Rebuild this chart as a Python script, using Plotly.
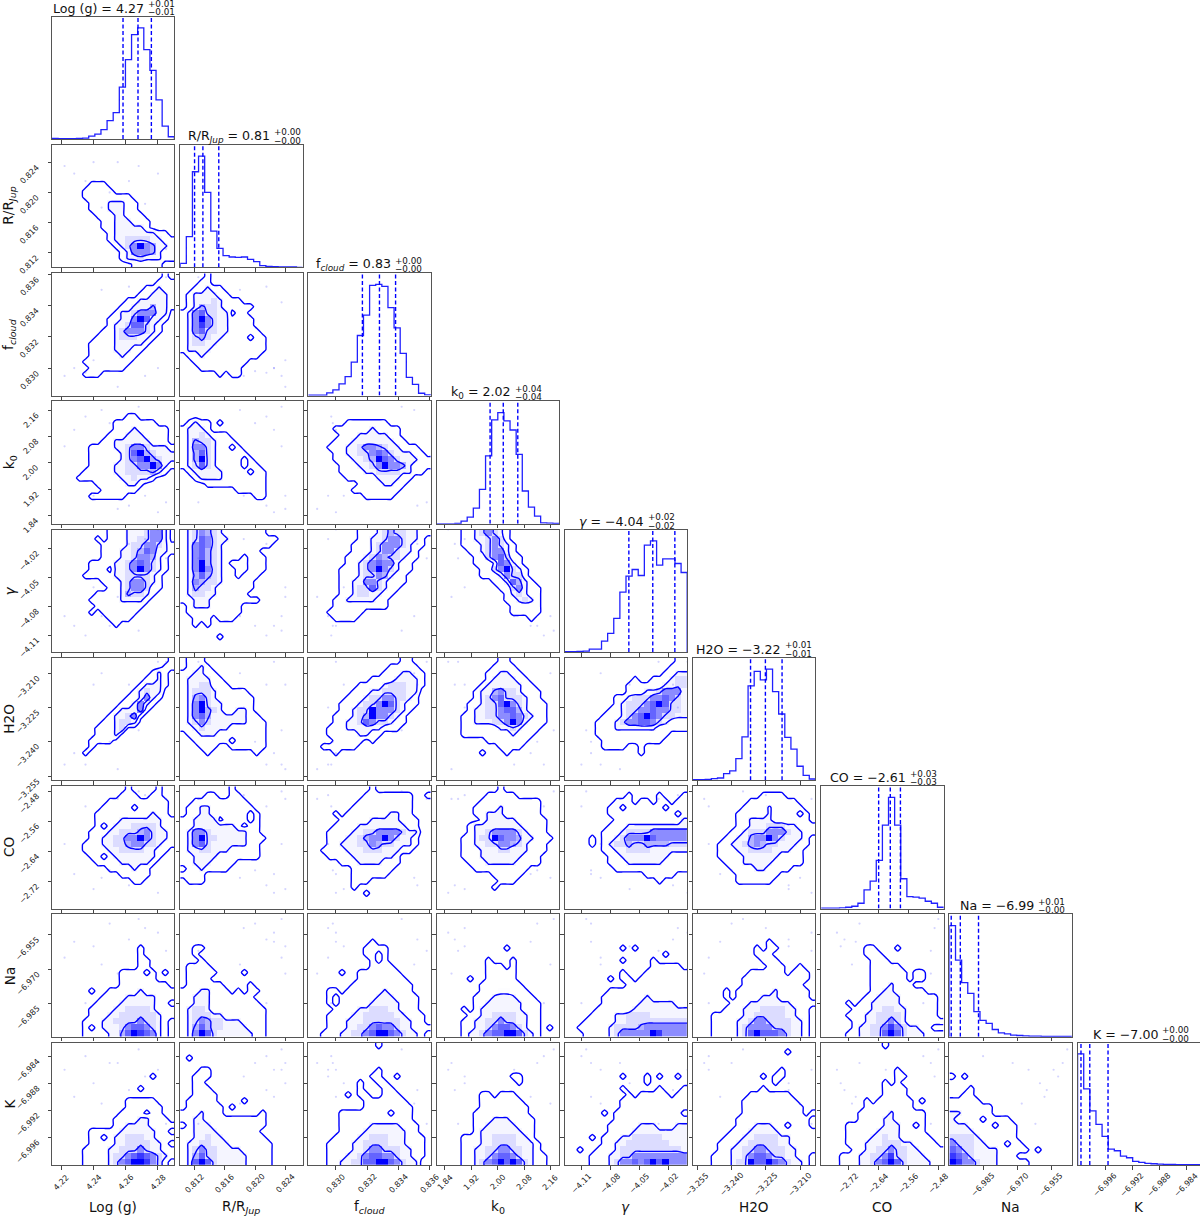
import plotly.graph_objects as go

NAMES = ["Log (g)", "R/R<sub><i>Jup</i></sub>", "f<sub><i>cloud</i></sub>", "k<sub>0</sub>", "<i>γ</i>", "H2O", "CO", "Na", "K"]
MEDIANS = ["4.27", "0.81", "0.83", "2.02", "−4.04", "−3.22", "−2.61", "−6.99", "−7.00"]
ERR_UP = ["+0.01", "+0.00", "+0.00", "+0.04", "+0.02", "+0.01", "+0.03", "+0.01", "+0.00"]
ERR_DN = ["−0.01", "−0.00", "−0.00", "−0.04", "−0.02", "−0.01", "−0.03", "−0.00", "−0.00"]
RANGE_LO = [4.2142, 0.8101, 0.82824, 1.8148, -4.1272, -3.2569, -2.792, -6.9998, -7.0001]
RANGE_HI = [4.2902, 0.82628, 0.83606, 2.186, -4.0003, -3.2033, -2.466, -6.946, -6.982]
TICKS = [
    [4.22, 4.24, 4.26, 4.28],
    [0.812, 0.816, 0.820, 0.824],
    [0.830, 0.832, 0.834, 0.836],
    [1.84, 1.92, 2.00, 2.08, 2.16],
    [-4.11, -4.08, -4.05, -4.02],
    [-3.255, -3.240, -3.225, -3.210],
    [-2.72, -2.64, -2.56, -2.48],
    [-6.985, -6.970, -6.955],
    [-6.996, -6.992, -6.988, -6.984],
]
TICK_TEXT = [
    ["4.22", "4.24", "4.26", "4.28"],
    ["0.812", "0.816", "0.820", "0.824"],
    ["0.830", "0.832", "0.834", "0.836"],
    ["1.84", "1.92", "2.00", "2.08", "2.16"],
    ["−4.11", "−4.08", "−4.05", "−4.02"],
    ["−3.255", "−3.240", "−3.225", "−3.210"],
    ["−2.72", "−2.64", "−2.56", "−2.48"],
    ["−6.985", "−6.970", "−6.955"],
    ["−6.996", "−6.992", "−6.988", "−6.984"],
]

# 1-D histograms (20 bins, relative counts)
H0 = [2, 1, 1, 1, 2, 3, 9, 15, 28, 55, 79, 155, 237, 312, 332, 267, 205, 117, 39, 7]
H1 = [12, 92, 287, 334, 225, 109, 57, 35, 31, 30, 31, 24, 17, 5, 3, 2, 1, 1, 1, 0]
H2 = [1, 1, 1, 8, 17, 35, 57, 101, 181, 242, 332, 335, 329, 265, 204, 127, 55, 34, 7, 2]
H3 = [0, 0, 0, 1, 8, 20, 47, 103, 203, 310, 332, 307, 280, 207, 98, 50, 23, 3, 2, 1]
H4 = [1, 1, 2, 3, 9, 9, 33, 56, 101, 180, 228, 248, 230, 321, 334, 261, 280, 280, 266, 239]
H5 = [2, 2, 3, 5, 7, 20, 28, 65, 130, 282, 325, 300, 332, 265, 198, 128, 93, 42, 15, 4]
H6 = [1, 1, 1, 2, 4, 7, 16, 56, 82, 144, 249, 332, 249, 89, 36, 34, 31, 22, 16, 4]
H7 = [332, 229, 162, 130, 75, 49, 40, 22, 12, 9, 5, 4, 3, 2, 2, 1, 1, 1, 1, 1]
H8 = [333, 228, 162, 122, 86, 48, 43, 27, 22, 11, 8, 5, 4, 3, 2, 2, 1, 1, 1, 1]
HISTS = [H0, H1, H2, H3, H4, H5, H6, H7, H8]

# 16 / 50 / 84 percent quantiles
Q0 = [4.2583, 4.2676, 4.2759]
Q1 = [0.8120, 0.8131, 0.8152]
Q2 = [0.83169, 0.83278, 0.83381]
Q3 = [1.977, 2.017, 2.061]
Q4 = [-4.0608, -4.036, -4.0131]
Q5 = [-3.2317, -3.2252, -3.2179]
Q6 = [-2.639, -2.608, -2.581]
Q7 = [-6.999, -6.995, -6.987]
Q8 = [-6.9996, -6.9983, -6.9956]
QUANTS = [Q0, Q1, Q2, Q3, Q4, Q5, Q6, Q7, Q8]

# 2-D density bins: {row from top: (first bin, density digits)}; digits 0-9
G10 = {6:(6,"111"),7:(5,"11111"),8:(5,"11111111"),9:(6,"11133311"),10:(6,"11133311"),11:(7,"11133111"),12:(8,"11333111"),13:(8,"11333331"),14:(9,"1333333311"),15:(9,"13344443311"),16:(10,"1346965331"),17:(11,"136665311"),18:(11,"133433311"),19:(13,"11111")}
G20 = {0:(18,"1"),1:(17,"111"),2:(15,"11311"),3:(14,"113331"),4:(12,"11333331"),5:(11,"113335331"),6:(10,"133466633"),7:(9,"1133697331"),8:(9,"133477431"),9:(8,"1134666431"),10:(7,"1113444331"),11:(6,"1111333331"),12:(6,"111133311"),13:(6,"11111311"),14:(5,"11111111"),15:(6,"111111"),16:(5,"111")}
G21 = {0:(4,"1"),1:(3,"11"),2:(2,"11311"),3:(1,"1333311"),4:(1,"133343111"),5:(1,"13544311111"),6:(0,"13674433011"),7:(0,"136964331111"),8:(0,"136864331111"),9:(0,"1367443311111"),10:(0,"13454331111011"),11:(0,"13443311111111"),12:(0,"13333111111111"),13:(1,"113111111111"),14:(2,"111111111"),15:(3,"1111111"),16:(6,"1011")}
G30 = {2:(12,"11"),3:(10,"1111111"),4:(10,"111311111"),5:(9,"1113331111"),6:(8,"11333333111"),7:(6,"11113346643331"),8:(6,"11111347954333"),9:(6,"11111346795433"),10:(6,"11113344669631"),11:(5,"11111334444531"),12:(4,"1111111334331"),13:(7,"11111331"),14:(8,"111111"),15:(6,"111111")}
G31 = {3:(1,"131101"),4:(0,"13331"),5:(0,"13343111"),6:(0,"135443111"),7:(0,"1366431101"),8:(0,"13574311111"),9:(0,"135943111101"),10:(0,"1347431111011"),11:(1,"1333331111011"),12:(2,"133331111111"),13:(4,"1111111111"),14:(9,"11111"),15:(12,"11")}
G32 = {3:(6,"1111111"),4:(4,"11111131111"),5:(5,"1113333311"),6:(4,"111333333311"),7:(3,"111334665433111"),8:(4,"113344676433311"),9:(4,"1113345976433311"),10:(5,"111334696653111"),11:(5,"11113344443311"),12:(6,"11111333311"),13:(8,"11113311"),14:(7,"11111111"),15:(9,"11111")}
G40 = {0:(9,"1113334663"),1:(7,"101113344663"),2:(8,"111134466431"),3:(8,"111334576331"),4:(8,"11133466531"),5:(6,"1111334676431"),6:(6,"1110334696431"),7:(5,"1111133444431"),8:(8,"1113466431"),9:(9,"113466411"),10:(7,"1111354431"),11:(6,"1111133331"),12:(7,"11111111"),13:(6,"10111111"),14:(9,"1111"),15:(10,"1")}
G41 = {0:(0,"13465431111111"),1:(0,"1347643311111111"),2:(0,"136764311111111"),3:(0,"1367543111111"),4:(0,"13675431110111"),5:(0,"13695431000111"),6:(0,"13696431100111"),7:(0,"1357543110111"),8:(0,"136544311111"),9:(0,"135443111111"),10:(0,"13443311111"),11:(0,"1133311111111"),12:(1,"133311111"),13:(1,"111111111"),14:(2,"1110111"),15:(2,"101"),17:(6,"1")}
G42 = {0:(8,"111345443311"),1:(8,"11334664331"),2:(7,"111346664311"),3:(7,"11134664331"),4:(6,"111346544311"),5:(6,"11346766311"),6:(5,"111346964311"),7:(5,"11134465311"),8:(5,"11336643111"),9:(5,"1134474311"),10:(5,"113443311"),11:(4,"113333311"),12:(4,"111111111"),13:(3,"111111"),14:(4,"1111")}
G43 = {0:(4,"11346431"),1:(4,"11334641"),2:(4,"111346431"),3:(5,"11346631"),4:(6,"11467411"),5:(6,"11137631"),6:(7,"11469431"),7:(7,"11136441"),8:(9,"1137531"),9:(10,"1146311"),10:(11,"134311"),11:(11,"113431"),12:(12,"11111"),13:(12,"11111"),14:(15,"1")}
G50 = {0:(19,"1"),1:(18,"11"),2:(16,"131"),3:(15,"1131"),4:(14,"13331"),5:(13,"13433"),6:(12,"113631"),7:(11,"113631"),8:(10,"133361"),9:(9,"133461"),10:(8,"113443"),11:(7,"11134"),12:(7,"1113"),13:(6,"1111"),14:(6,"1"),15:(5,"1")}
G51 = {0:(1,"111"),1:(1,"1131"),2:(0,"113311"),3:(0,"1333311"),4:(0,"13344111"),5:(0,"13444311111"),6:(0,"135643111111"),7:(0,"136943311111"),8:(0,"136954311331"),9:(0,"1367533333311"),10:(0,"13464333333111"),11:(0,"11343333111111"),12:(1,"1133311111111"),13:(2,"111111011111"),14:(3,"11100111111"),15:(4,"100000001")}
G52 = {0:(15,"11"),1:(13,"11111"),2:(12,"1113311"),3:(10,"111133331"),4:(8,"11113444331"),5:(7,"11133444433"),6:(6,"111344664431"),7:(5,"1113446974311"),8:(5,"113449666431"),9:(4,"111345966431"),10:(4,"113347644311"),11:(3,"111333333111"),12:(3,"111113311"),13:(4,"1111101"),14:(2,"111111"),15:(4,"1")}
G53 = {0:(10,"11"),1:(9,"1111"),2:(8,"113311"),3:(8,"1333311"),4:(7,"133333311"),5:(6,"13356443111"),6:(6,"13467444311"),7:(5,"1134479643111"),8:(5,"1334467753111"),9:(4,"11334466764311"),10:(4,"11333446963111"),11:(4,"1111113343111"),12:(4,"111111113111"),13:(8,"1111111"),14:(10,"1111"),15:(7,"10001")}
G54 = {0:(18,"11"),1:(17,"111"),2:(16,"1133"),3:(11,"100111344"),4:(10,"1111113344"),5:(10,"1113346663"),6:(8,"113444667643"),7:(8,"134446797443"),8:(7,"1134466766443"),9:(6,"11134679764433"),10:(5,"111346677643111"),11:(5,"111333333311111"),12:(5,"111111111111"),13:(6,"1111111111"),14:(6,"1111001"),15:(12,"1")}
G60 = {0:(12,"100001"),1:(11,"1110011"),2:(9,"1111111111"),3:(8,"11111011111"),4:(7,"111111111311"),5:(7,"1111333333311"),6:(7,"1013334444311"),7:(6,"11133444564331"),8:(6,"11334466964331"),9:(5,"111334456644311"),10:(5,"11113344443311"),11:(6,"110133333331"),12:(7,"1111333331"),13:(9,"1111311"),14:(11,"11111"),15:(13,"11")}
G61 = {0:(8,"1"),1:(4,"110011"),2:(2,"111111111"),3:(1,"11331111111"),4:(1,"113311111101"),5:(0,"1133330111101"),6:(0,"1133333331011"),7:(0,"1366433333311"),8:(0,"13694433333111"),9:(0,"1367433333311"),10:(0,"1334433311111"),11:(0,"1133331111111"),12:(0,"113331111"),13:(1,"1131111"),14:(0,"1111"),15:(1,"111")}
G62 = {0:(10,"1"),1:(9,"11111111001"),2:(8,"111111111"),3:(7,"1111111111"),4:(4,"1011111113311"),5:(5,"1111133333111"),6:(4,"11113333333311"),7:(3,"111133446666433"),8:(3,"111334566964331"),9:(3,"113334465443331"),10:(2,"111133344433311"),11:(3,"111133333331"),12:(5,"1113333111"),13:(7,"1111111"),14:(7,"111111"),15:(7,"111"),16:(7,"1"),17:(9,"1")}
G63 = {0:(10,"1"),1:(8,"11111"),2:(7,"1111111111"),3:(6,"11113111111"),4:(6,"11333111111"),5:(7,"13333311111"),6:(5,"1333333331111"),7:(5,"1334666643111"),8:(4,"113449766533111"),9:(4,"11334466543111"),10:(4,"11133344333111"),11:(4,"1113333333111"),12:(5,"111333331111"),13:(6,"111111111"),14:(9,"11111"),15:(10,"111"),16:(9,"1")}
G64 = {1:(10,"1000010001"),2:(8,"111011011011"),3:(7,"1101111110111"),4:(7,"1111111111101"),5:(8,"111111111113"),6:(7,"1113333333333"),7:(6,"11134444666666"),8:(4,"1011346669766666"),9:(4,"1013445445555444"),10:(6,"11334444333333"),11:(7,"1133333333111"),12:(7,"1113333331111"),13:(8,"111111111111"),14:(13,"11111"),15:(15,"1")}
G65 = {1:(11,"1111"),2:(9,"11111111"),3:(8,"1111311111"),4:(7,"111113111101"),5:(7,"113333111111"),6:(7,"1133344433111"),7:(6,"11344466643311"),8:(5,"11335669643331"),9:(4,"113345654433311"),10:(4,"11133444433311"),11:(4,"11113333331111"),12:(5,"1113333311111"),13:(6,"1111331111"),14:(7,"1111111"),15:(7,"111111")}
G70 = {5:(14,"1"),6:(14,"1"),7:(14,"11"),8:(14,"11"),9:(11,"11110101"),10:(11,"111111"),11:(11,"11111111"),12:(6,"10011111311111"),13:(8,"111133333111"),14:(7,"1111333333110"),15:(6,"11113344443111"),16:(6,"11133444444311"),17:(5,"11133444464431"),18:(5,"10133346776431"),19:(5,"11113357987631")}
G71 = {5:(2,"11"),6:(2,"1"),7:(3,"1"),8:(1,"1111"),9:(1,"1111100001"),10:(1,"1111"),11:(1,"11111100001"),12:(0,"1113311101011"),13:(0,"113331111111"),14:(0,"1133311111111"),15:(0,"13443111111111"),16:(0,"13444331111111"),17:(0,"13465443331111"),18:(0,"13575443333111"),19:(0,"13697433333311")}
G72 = {4:(10,"1"),5:(9,"1111"),6:(9,"1101"),7:(10,"101"),8:(10,"1111"),9:(5,"1001111111"),10:(8,"11111111"),11:(7,"1111111111"),12:(3,"11011111131111"),13:(3,"101111113331111"),14:(3,"101111133333111"),15:(4,"11113344433111"),16:(3,"1111334444433111"),17:(3,"1113334444443311"),18:(3,"11133446766433111"),19:(2,"11133446799764331")}
G73 = {5:(11,"1"),7:(8,"10001"),8:(8,"11101"),9:(8,"11111"),10:(5,"10011111"),11:(7,"1111111"),12:(7,"11122111"),13:(6,"1113333111"),14:(6,"11333333111"),15:(4,"1013333333111"),16:(5,"113344443311"),17:(4,"1133446443311"),18:(4,"113346776431101"),19:(4,"1334677997431")}
G74 = {5:(9,"101"),6:(16,"1"),7:(9,"100001"),8:(14,"11111"),9:(9,"10001111111"),10:(7,"1011011111111"),11:(10,"1111111111"),12:(7,"1111111111111"),13:(6,"11111113111111"),14:(6,"11111133333311"),15:(5,"111111333333333"),16:(4,"1111334444333333"),17:(3,"11111334444444444"),18:(2,"111113444456666666"),19:(3,"11113466666986666")}
G75 = {4:(12,"1"),5:(10,"1011"),6:(10,"111"),7:(11,"111"),8:(12,"111001"),9:(9,"1111110111"),10:(8,"11111111111"),11:(8,"1111111111"),12:(5,"10111111311111"),13:(5,"10111133311111"),14:(6,"11133333331111"),15:(5,"11133344443311"),16:(3,"1111133444443311"),17:(3,"1111334664444331"),18:(3,"1111346666444331"),19:(3,"1111347977764331")}
G76 = {5:(7,"110001"),6:(7,"111"),7:(8,"111"),8:(8,"11111"),9:(8,"111111011"),10:(8,"111111011"),11:(8,"1113111"),12:(8,"113311111"),13:(7,"113333111111"),14:(4,"101133333111111"),15:(5,"11133443311111"),16:(4,"111334444311111"),17:(5,"113344643111111"),18:(5,"1334468643311"),19:(4,"1133447974333111")}
G80 = {5:(16,"1"),7:(14,"1"),9:(12,"11111"),10:(12,"111111"),11:(11,"1111011"),12:(10,"111133111"),13:(10,"1133331111"),14:(6,"1111133333311"),15:(6,"11013344433111"),16:(6,"1111334444331"),17:(5,"111133444643311"),18:(5,"111134467876431"),19:(5,"11113467998641")}
G81 = {2:(1,"1"),4:(3,"11"),5:(2,"111"),6:(2,"11"),7:(2,"111"),8:(2,"1111"),9:(1,"1111100001"),10:(1,"11111101"),11:(0,"11131110000001"),12:(0,"11331111111111"),13:(1,"1333111111111"),14:(0,"1133331111111"),15:(0,"11334331111111"),16:(0,"133443331111111"),17:(0,"134644333311111"),18:(0,"135744333331111"),19:(0,"137974333331111")}
G82 = {0:(11,"1"),4:(11,"1"),5:(10,"11001"),6:(8,"10011"),7:(8,"100011"),8:(6,"101100111"),9:(9,"1111111"),10:(9,"11111111"),11:(5,"111111110111"),12:(5,"111111111111"),13:(5,"1111133333111"),14:(5,"1111333333311"),15:(4,"111133444333111"),16:(3,"1111334444333111"),17:(3,"1111334664443311"),18:(3,"1113346776643311"),19:(3,"113344779976433")}
G83 = {5:(12,"11"),6:(13,"1"),8:(7,"110111"),9:(7,"1111111"),10:(7,"11111111"),11:(6,"111111111"),12:(6,"1113331111"),13:(6,"1133333111"),14:(6,"1333333311"),15:(4,"111334444331"),16:(4,"1113344443331"),17:(4,"1133446644331"),18:(4,"11334677643311"),19:(4,"11346797974311")}
G84 = {5:(9,"1000101001"),6:(13,"1"),7:(9,"10000010001"),8:(10,"1011111011"),9:(9,"11111111111"),10:(9,"11111111111"),11:(6,"10111111111110"),12:(8,"111111111111"),13:(7,"1111133311133"),14:(7,"1111333333333"),15:(4,"1011133444443333"),16:(6,"11334444444333"),17:(2,"100111344444444443"),18:(4,"1113344666666666"),19:(4,"1113466767979666")}
G85 = {1:(15,"1"),4:(14,"1"),5:(11,"1011"),6:(13,"1"),7:(11,"1"),8:(9,"1111111"),9:(8,"111111111"),10:(8,"1111111111"),11:(8,"111111111101"),12:(7,"111111111111"),13:(7,"111333110111"),14:(6,"11133333111111"),15:(5,"111334444331111"),16:(4,"1113344444331111"),17:(4,"1133446644433111"),18:(3,"1113346776443311"),19:(3,"1113449779764331")}
G86 = {0:(10,"1"),4:(12,"1"),5:(12,"11"),6:(10,"101"),7:(10,"1111"),8:(10,"1111"),9:(7,"1011111101"),10:(7,"11111111"),11:(6,"11111311111"),12:(6,"11113311111"),13:(4,"1111113331101"),14:(4,"1111133331111"),15:(4,"11113343311111"),16:(4,"111333444331111"),17:(5,"113344644331111"),18:(3,"11133446844333111"),19:(3,"11133467974333311")}
G87 = {5:(0,"101"),7:(3,"1"),8:(2,"11"),9:(0,"11111"),10:(0,"1111111"),11:(0,"3311111"),12:(0,"3111101111"),13:(0,"33311110111"),14:(0,"33331111111"),15:(0,"44443111111"),16:(0,"644433111011"),17:(0,"764433331111101"),18:(0,"87643333111"),19:(0,"9866433311111")}
GRIDS = {
    (1,0):G10,(2,0):G20,(2,1):G21,(3,0):G30,(3,1):G31,(3,2):G32,
    (4,0):G40,(4,1):G41,(4,2):G42,(4,3):G43,
    (5,0):G50,(5,1):G51,(5,2):G52,(5,3):G53,(5,4):G54,
    (6,0):G60,(6,1):G61,(6,2):G62,(6,3):G63,(6,4):G64,(6,5):G65,
    (7,0):G70,(7,1):G71,(7,2):G72,(7,3):G73,(7,4):G74,(7,5):G75,(7,6):G76,
    (8,0):G80,(8,1):G81,(8,2):G82,(8,3):G83,(8,4):G84,(8,5):G85,(8,6):G86,(8,7):G87,
}

# faint tail samples: one row per sample across all nine parameters
SAMPLES = [
    [4.222,0.8235,0.8295,2.05,-4.09,-3.250,-2.62,-6.965,-6.986],
    [4.228,0.8225,0.8300,2.10,-4.10,-3.245,-2.70,-6.958,-6.990],
    [4.235,0.8215,0.8297,2.14,-4.11,-3.250,-2.52,-6.985,-6.984],
    [4.240,0.8240,0.8305,1.90,-4.06,-3.215,-2.74,-6.960,-6.988],
    [4.285,0.8125,0.8358,1.88,-4.03,-3.205,-2.50,-6.962,-6.994],
    [4.250,0.8200,0.8298,2.12,-4.10,-3.240,-2.69,-6.950,-6.985],
    [4.272,0.8185,0.8295,1.90,-4.01,-3.225,-2.49,-6.952,-6.987],
    [4.262,0.8215,0.8352,1.87,-4.015,-3.215,-2.73,-6.957,-6.989],
    [4.268,0.8235,0.8342,2.17,-4.105,-3.235,-2.48,-6.948,-6.983],
    [4.280,0.8225,0.8300,1.85,-4.00,-3.205,-2.75,-6.954,-6.986],
    [4.245,0.8180,0.8350,2.16,-4.09,-3.210,-2.71,-6.968,-6.991],
    [4.255,0.8240,0.8288,1.86,-4.07,-3.252,-2.50,-6.972,-6.985],
]

W, H = 1200, 1216
N = 9
X0, Y0, STEP_X, STEP_Y, SIZE = 52.0, 16.7, 128.2, 128.25, 122.4
TITLE_JOIN = [32.7, 30.5, 23.0, 15.5, 20.0, 28.5, 25.7, 25.0, 20.7]
FONT = "DejaVu Sans"
LEVEL_COLORS = ["#ffffff", "#ffffff", "#fdfdff", "#f5f5ff", "#dcdcff", "#b4b4ff", "#8c8cff", "#6464ff", "#3838ff", "#0000ff"]
COLORSCALE = [[i / 9, c] for i, c in enumerate(LEVEL_COLORS)]


def decode(grid):
    rows = [[0] * 20 for _ in range(20)]
    for r, (start, digits) in grid.items():
        for k, ch in enumerate(digits):
            if start + k < 20:
                rows[r][start + k] = int(ch)
    return rows[::-1]


def px(x):
    return x / W


def py(y):
    return 1 - y / H


traces = []
layout = dict(
    template="none",
    width=W, height=H, autosize=False,
    margin=dict(l=0, r=0, t=0, b=0, pad=0, autoexpand=False),
    paper_bgcolor="white", plot_bgcolor="white",
    showlegend=False, font=dict(family=FONT, color="#111"),
)
annots = []
axis_id = 0
TICK_FONT = dict(family=FONT, size=8, color="#222")
LABEL_FONT = dict(family=FONT, size=13.6, color="#111")
TITLE_FONT = dict(family=FONT, size=12.6, color="#111")
SCRIPT_FONT = dict(family=FONT, size=8.8, color="#111")


def base_axis(domain, rng, anchor):
    return dict(
        domain=domain, range=rng, anchor=anchor, showgrid=False, zeroline=False,
        showline=True, mirror=True, linecolor="#555", linewidth=1, automargin=False,
        ticks="outside", ticklen=3.5, tickwidth=0.8, tickcolor="#444",
        showticklabels=False,
    )


for r in range(N):
    for c in range(r + 1):
        axis_id += 1
        xn, yn = f"x{axis_id}", f"y{axis_id}"
        xk, yk = f"xaxis{axis_id}", f"yaxis{axis_id}"
        left, top = X0 + c * STEP_X, Y0 + r * STEP_Y
        xdom = [px(left), px(left + SIZE)]
        ydom = [py(top + SIZE), py(top)]
        ax = base_axis(xdom, [RANGE_LO[c], RANGE_HI[c]], yn)
        ax.update(tickvals=TICKS[c])
        layout[xk] = ax
        lo, hi = RANGE_LO[c], RANGE_HI[c]
        dx = (hi - lo) / 20
        edges = [lo + i * dx for i in range(21)]
        if r == c:
            counts = HISTS[c]
            ymax = 1.1 * max(counts)
            ay = base_axis(ydom, [0, ymax], xn)
            ay.update(ticks="")
            layout[yk] = ay
            traces.append(go.Scatter(
                x=[edges[0]] + edges + [edges[-1]],
                y=[0] + counts + [counts[-1], 0],
                mode="lines", line=dict(color="#2020ff", width=1.3, shape="hv"),
                xaxis=xn, yaxis=yn, hoverinfo="skip"))
            for q in QUANTS[c]:
                traces.append(go.Scatter(
                    x=[q, q], y=[0, ymax], mode="lines",
                    line=dict(color="#0000ff", width=1.4, dash="4px,2.5px"),
                    xaxis=xn, yaxis=yn, hoverinfo="skip"))
            join = left + SIZE / 2 + TITLE_JOIN[c]
            annots.append(dict(text=f"{NAMES[c]} = {MEDIANS[c]}", x=px(join), y=py(top - 8.6), xref="paper", yref="paper",
                               xanchor="right", yanchor="middle", showarrow=False, font=TITLE_FONT))
            annots.append(dict(text=ERR_UP[c], x=px(join), y=py(top - 12.6), xref="paper", yref="paper",
                               xanchor="left", yanchor="middle", showarrow=False, font=SCRIPT_FONT))
            annots.append(dict(text=ERR_DN[c], x=px(join), y=py(top - 4.2), xref="paper", yref="paper",
                               xanchor="left", yanchor="middle", showarrow=False, font=SCRIPT_FONT))
        else:
            ylo, yhi = RANGE_LO[r], RANGE_HI[r]
            dy = (yhi - ylo) / 20
            yedges = [ylo + i * dy for i in range(21)]
            ay = base_axis(ydom, [ylo, yhi], xn)
            ay.update(tickvals=TICKS[r])
            layout[yk] = ay
            z = decode(GRIDS[(r, c)])
            traces.append(go.Heatmap(
                x=edges, y=yedges, z=z, zmin=0, zmax=9, colorscale=COLORSCALE,
                showscale=False, xaxis=xn, yaxis=yn, hoverinfo="skip", zsmooth=False))
            traces.append(go.Scatter(
                x=[s[c] for s in SAMPLES], y=[s[r] for s in SAMPLES], mode="markers",
                marker=dict(size=2.2, color="rgba(60,60,255,0.22)"),
                xaxis=xn, yaxis=yn, hoverinfo="skip"))
            xc = [lo] + [lo + (i + 0.5) * dx for i in range(20)] + [hi]
            yc = [ylo] + [ylo + (i + 0.5) * dy for i in range(20)] + [yhi]
            zp = [row[:1] + row + row[-1:] for row in z]
            zp = [zp[0]] + zp + [zp[-1]]
            traces.append(go.Contour(
                x=xc, y=yc, z=zp, autocontour=False,
                contours=dict(start=0.5, end=4.5, size=2, coloring="lines", showlabels=False),
                colorscale=[[0, "#0000ff"], [1, "#0000ff"]], showscale=False,
                line=dict(width=1.4, smoothing=0.5), xaxis=xn, yaxis=yn, hoverinfo="skip"))
            if c == 0:
                for val, txt in zip(TICKS[r], TICK_TEXT[r]):
                    n = len(txt) - 4
                    annots.append(dict(text=txt, x=px(31 - 1.5 * n), xref="paper", y=val, yref=yn,
                                       yshift=-(10 + 2 * n), xanchor="center", yanchor="middle",
                                       textangle=-45, showarrow=False, font=TICK_FONT))
        if r == N - 1:
            bottom = top + SIZE
            for val, txt in zip(TICKS[c], TICK_TEXT[c]):
                n = len(txt) - 4
                annots.append(dict(text=txt, x=val, xref=xn, y=py(bottom + 17 + 1.2 * n), yref="paper",
                                   xanchor="center", yanchor="middle",
                                   textangle=-45, showarrow=False, font=TICK_FONT))
            annots.append(dict(text=NAMES[c], x=px(left + SIZE / 2), y=py(1207), xref="paper", yref="paper",
                               xanchor="center", yanchor="middle", showarrow=False, font=LABEL_FONT))
    if r > 0:
        annots.append(dict(text=NAMES[r], x=px(9.5), y=py(Y0 + r * STEP_Y + SIZE / 2), xref="paper", yref="paper",
                           xanchor="center", yanchor="middle", textangle=-90, showarrow=False, font=LABEL_FONT))

layout["annotations"] = annots
fig = go.Figure(data=traces, layout=layout)
fig.write_html("out.html", config={"displayModeBar": False}, post_script="document.body.style.margin='0';")
